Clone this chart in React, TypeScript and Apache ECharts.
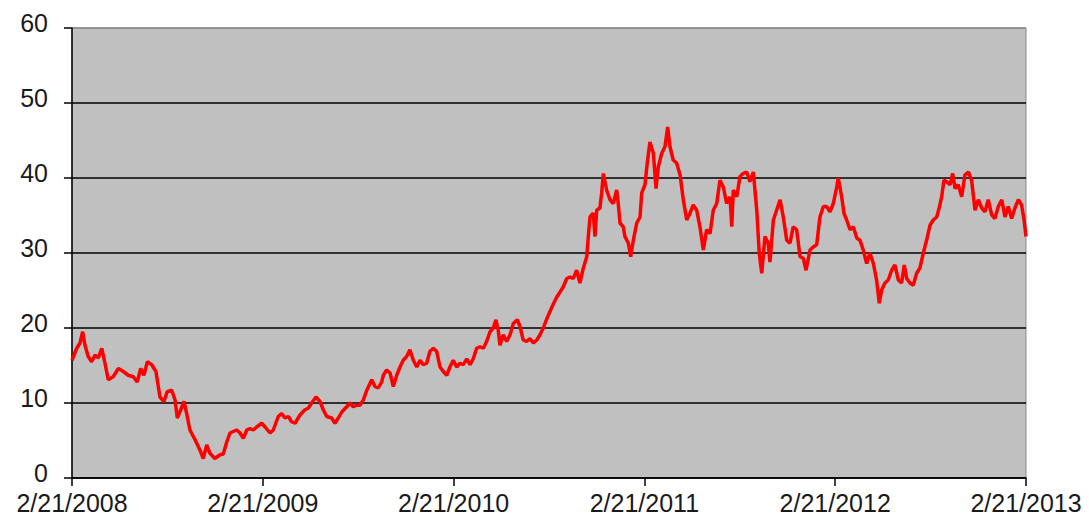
import React, { useEffect, useRef } from "react";
import * as echarts from "echarts";

// Years elapsed since 2/21/2008
const yearOffsets: number[] = [
  0, 0.025, 0.042, 0.056, 0.068, 0.085, 0.103, 0.121, 0.138, 0.156, 0.173, 0.19, 0.216, 0.243, 0.269, 0.295,
  0.321, 0.342, 0.36, 0.377, 0.395, 0.418, 0.44, 0.461, 0.482, 0.499, 0.523, 0.54, 0.552, 0.57, 0.587, 0.601,
  0.618, 0.645, 0.671, 0.688, 0.706, 0.723, 0.749, 0.776, 0.793, 0.811, 0.828, 0.845, 0.863, 0.881, 0.898,
  0.916, 0.933, 0.95, 0.968, 0.994, 1.012, 1.038, 1.055, 1.081, 1.099, 1.116, 1.134, 1.151, 1.169, 1.195,
  1.221, 1.238, 1.256, 1.279, 1.3, 1.317, 1.335, 1.361, 1.378, 1.396, 1.414, 1.44, 1.457, 1.474, 1.492,
  1.509, 1.527, 1.545, 1.571, 1.588, 1.605, 1.623, 1.632, 1.649, 1.667, 1.684, 1.702, 1.719, 1.736, 1.754,
  1.771, 1.789, 1.807, 1.824, 1.841, 1.859, 1.876, 1.894, 1.911, 1.929, 1.946, 1.964, 1.981, 1.998, 2.016,
  2.034, 2.051, 2.069, 2.086, 2.103, 2.121, 2.138, 2.156, 2.173, 2.191, 2.208, 2.222, 2.234, 2.243, 2.26,
  2.278, 2.296, 2.313, 2.334, 2.348, 2.365, 2.383, 2.4, 2.418, 2.436, 2.453, 2.47, 2.488, 2.505, 2.523,
  2.54, 2.558, 2.575, 2.593, 2.61, 2.627, 2.645, 2.662, 2.68, 2.698, 2.706, 2.715, 2.732, 2.741, 2.75,
  2.767, 2.776, 2.785, 2.802, 2.82, 2.837, 2.855, 2.863, 2.872, 2.889, 2.898, 2.916, 2.928, 2.942, 2.96,
  2.977, 2.986, 3.003, 3.015, 3.029, 3.047, 3.061, 3.073, 3.091, 3.108, 3.122, 3.134, 3.151, 3.169, 3.187,
  3.204, 3.222, 3.239, 3.256, 3.274, 3.291, 3.309, 3.326, 3.344, 3.361, 3.379, 3.396, 3.414, 3.431, 3.449,
  3.458, 3.466, 3.484, 3.501, 3.518, 3.536, 3.553, 3.571, 3.589, 3.602, 3.615, 3.632, 3.649, 3.658, 3.676,
  3.693, 3.711, 3.728, 3.746, 3.763, 3.78, 3.798, 3.816, 3.833, 3.847, 3.868, 3.885, 3.903, 3.92, 3.938,
  3.955, 3.973, 3.99, 4.008, 4.016, 4.034, 4.046, 4.06, 4.078, 4.095, 4.113, 4.13, 4.147, 4.165, 4.182,
  4.2, 4.217, 4.231, 4.244, 4.261, 4.278, 4.296, 4.313, 4.331, 4.348, 4.362, 4.375, 4.392, 4.409, 4.427,
  4.444, 4.462, 4.479, 4.497, 4.514, 4.532, 4.545, 4.558, 4.57, 4.584, 4.602, 4.616, 4.628, 4.645, 4.663,
  4.68, 4.698, 4.715, 4.733, 4.75, 4.768, 4.785, 4.802, 4.82, 4.837, 4.855, 4.873, 4.89, 4.907, 4.925,
  4.942, 4.96, 4.977, 4.99, 5.0,
];

const prices: number[] = [
  15.7, 17.3, 18.0, 19.5, 17.7, 16.2, 15.5, 16.4, 16.0, 17.3, 15.3, 13.1, 13.5, 14.6, 14.2, 13.7,
  13.5, 12.8, 14.6, 13.7, 15.5, 15.1, 14.2, 10.8, 10.2, 11.5, 11.7, 10.4, 8.0, 9.1, 10.2, 8.6,
  6.4, 5.1, 3.7, 2.6, 4.4, 3.3, 2.6, 3.1, 3.2, 4.8, 6.0, 6.2, 6.4, 6.0, 5.3,
  6.4, 6.6, 6.4, 6.8, 7.3, 6.8, 6.0, 6.4, 8.2, 8.6, 8.0, 8.2, 7.5, 7.3, 8.4,
  9.1, 9.3, 10.0, 10.8, 10.2, 9.1, 8.2, 8.0, 7.3, 8.0, 8.8, 9.5, 10.0, 9.5, 9.7,
  9.7, 10.4, 11.7, 13.1, 12.2, 12.0, 12.8, 13.7, 14.4, 14.0, 12.2, 13.7, 14.8, 15.7, 16.2,
  17.1, 15.7, 14.8, 15.7, 15.1, 15.3, 16.9, 17.3, 16.9, 14.8, 14.2, 13.7, 14.8, 15.7, 14.8,
  15.3, 15.1, 15.9, 15.1, 15.9, 17.3, 17.5, 17.3, 18.2, 19.5, 20.0, 21.1, 19.7, 17.7, 19.1,
  18.2, 19.1, 20.6, 21.1, 20.2, 18.4, 18.2, 18.6, 18.0, 18.4, 19.1, 20.0, 21.2, 22.2, 23.2,
  24.1, 24.8, 25.5, 26.6, 26.8, 26.6, 27.7, 26.0, 28.0, 29.5, 32.2, 34.8, 35.3, 32.2, 35.7,
  36.0, 38.0, 40.6, 38.4, 37.1, 36.6, 38.4, 36.6, 34.0, 33.5, 32.2, 31.3, 29.5, 31.7, 34.0,
  34.8, 38.0, 39.1, 42.0, 44.8, 43.3, 38.6, 41.5, 43.3, 44.2, 46.8, 44.2, 42.4, 42.0, 40.4,
  37.1, 34.4, 35.3, 36.4, 35.7, 33.5, 30.4, 33.1, 32.6, 35.7, 36.6, 39.7, 38.8, 36.6, 37.5,
  33.5, 38.4, 37.5, 40.2, 40.6, 40.8, 39.5, 40.8, 35.7, 30.0, 27.3, 32.2, 31.3, 28.8, 34.4,
  35.7, 37.1, 34.8, 31.7, 31.3, 33.5, 33.1, 29.5, 29.3, 27.7, 30.4, 30.8, 31.1, 34.8, 36.2,
  36.2, 35.5, 36.6, 38.8, 40.0, 37.5, 35.3, 34.4, 33.1, 33.5, 32.0, 31.7, 30.4, 28.6, 30.0,
  28.6, 26.4, 23.3, 25.1, 26.0, 26.4, 27.7, 28.4, 26.4, 26.0, 28.4, 26.6, 26.0, 25.7, 27.3,
  28.0, 30.0, 31.7, 33.7, 34.4, 34.8, 36.0, 37.5, 39.7, 39.5, 39.1, 40.6, 38.6, 39.1, 37.5,
  40.4, 40.8, 39.7, 35.7, 37.1, 36.0, 35.5, 37.1, 35.1, 34.6, 36.2, 37.1, 34.8, 36.2, 34.6,
  36.0, 37.1, 36.4, 34.4, 32.2,
];

const xTickLabels: string[] = ["2/21/2008", "2/21/2009", "2/21/2010", "2/21/2011", "2/21/2012", "2/21/2013"];
const yTicks: number[] = [0, 10, 20, 30, 40, 50, 60];

export default function App() {
  const ref = useRef<HTMLDivElement>(null);
  useEffect(() => {
    document.body.style.margin = "0";
    document.body.style.overflow = "hidden";
    if (!ref.current) return;
    const chart = echarts.init(ref.current, null, { renderer: "svg" });
    const data = yearOffsets.map((t, i) => [t, prices[i]]);
    const font = "Liberation Sans, Arial, sans-serif";
    chart.setOption({
      animation: false,
      backgroundColor: "#ffffff",
      grid: {
        left: 72,
        right: 63,
        top: 28,
        bottom: 40,
        show: true,
        backgroundColor: "#C0C0C0",
        borderColor: "#8a8a8a",
        borderWidth: 1,
      },
      xAxis: {
        type: "value",
        min: 0,
        max: 5,
        interval: 1,
        axisLine: { show: true, lineStyle: { color: "#000", width: 1.5 } },
        axisTick: { show: true, inside: false, length: 8, lineStyle: { color: "#000", width: 1.5 } },
        axisLabel: {
          margin: 12,
          color: "#1a1a1a",
          fontSize: 25,
          lineHeight: 25,
          fontFamily: font,
          formatter: (v: number) => xTickLabels[Math.round(v)] ?? "",
        },
        splitLine: { show: false },
      },
      yAxis: {
        type: "value",
        min: yTicks[0],
        max: yTicks[yTicks.length - 1],
        interval: 10,
        axisLine: { show: true, lineStyle: { color: "#000", width: 1.5 } },
        axisTick: { show: true, inside: false, length: 8, lineStyle: { color: "#000", width: 1.5 } },
        axisLabel: {
          margin: 24,
          color: "#1a1a1a",
          fontSize: 25,
          fontFamily: font,
          formatter: "{v|{value}}",
          rich: {
            v: {
              fontSize: 25,
              fontFamily: font,
              color: "#1a1a1a",
              lineHeight: 25,
              padding: [0, 0, 10, 0],
            },
          },
        },
        splitLine: {
          show: true,
          lineStyle: {
            color: ["#000", "#000", "#000", "#000", "#000", "#000", "#8a8a8a"],
            width: 1.5,
          },
        },
      },
      series: [
        {
          type: "line",
          data,
          showSymbol: false,
          symbol: "none",
          lineStyle: { color: "#FF0000", width: 3.5 },
        },
      ],
    });
    return () => chart.dispose();
  }, []);
  return <div ref={ref} style={{ width: 1089, height: 518 }} />;
}
